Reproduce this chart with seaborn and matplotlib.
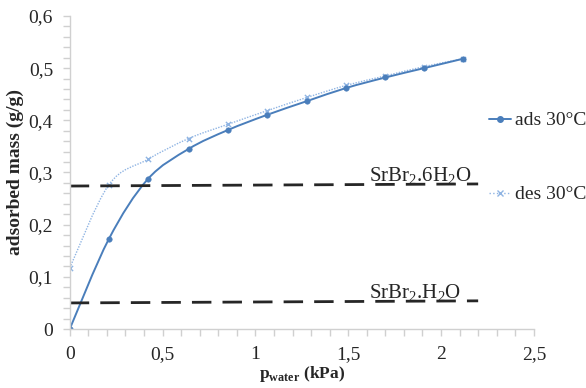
import numpy as np
import pandas as pd
import matplotlib
matplotlib.use("Agg")
import matplotlib.pyplot as plt
import seaborn as sns
from matplotlib.path import Path
from matplotlib.patches import PathPatch
from matplotlib.ticker import MultipleLocator, FuncFormatter

# data
p_water = [0, 0.21, 0.42, 0.64, 0.85, 1.06, 1.28, 1.49, 1.70, 1.91, 2.12]
ads_30 = [0, 0.172, 0.287, 0.345, 0.381, 0.410, 0.437, 0.462, 0.482, 0.500, 0.518]
des_30 = [0.117, 0.276, 0.325, 0.365, 0.392, 0.418, 0.444, 0.467, 0.485, 0.503, 0.518]

hexa_x = [0, 2.2]
hexa_y = [0.274, 0.278]
mono_x = [0, 2.2]
mono_y = [0.050, 0.054]

sns.set_style("white")
plt.rcParams["font.family"] = ["Liberation Serif", "DejaVu Serif"]
plt.rcParams["mathtext.fontset"] = "custom"
plt.rcParams["mathtext.rm"] = "Liberation Serif"
plt.rcParams["mathtext.bf"] = "Liberation Serif:bold"

ADS = "#4a7ebb"
DES = "#8fb4e3"


def smooth_path(ax, xs, ys, **kw):
    # Excel-like smoothed line (Bezier through the data points)
    pts = np.column_stack([xs, ys])
    n = len(pts)
    verts = [pts[0]]
    codes = [Path.MOVETO]
    for i in range(n - 1):
        p0 = pts[i - 1] if i > 0 else pts[i]
        p1, p2 = pts[i], pts[i + 1]
        p3 = pts[i + 2] if i + 2 < n else pts[i + 1]
        verts += [p1 + (p2 - p0) / 6, p2 - (p3 - p1) / 6, p2]
        codes += [Path.CURVE4] * 3
    ax.add_patch(PathPatch(Path(verts, codes), fill=False, **kw))


fig, ax = plt.subplots(figsize=(5.86, 3.88), dpi=100)
fig.subplots_adjust(left=0.119, right=0.911, top=0.959, bottom=0.152)

df = pd.DataFrame({"p": p_water, "ads": ads_30, "des": des_30})

smooth_path(ax, df["p"], df["des"], color=DES, lw=1.0, ls=(0, (1, 1)))
smooth_path(ax, df["p"], df["ads"], color=ADS, lw=1.4)
sns.scatterplot(data=df, x="p", y="des", marker="x", s=14, color=DES,
                linewidth=1, ax=ax)
sns.scatterplot(data=df, x="p", y="ads", marker="o", s=16, color=ADS,
                edgecolor=ADS, ax=ax)

ax.plot(hexa_x, hexa_y, color="#262626", lw=2, dashes=(7, 4))
ax.plot(mono_x, mono_y, color="#262626", lw=2, dashes=(7, 4))
ax.text(1.61, 0.283, r"SrBr$_2$.6H$_2$O", fontsize=15)
ax.text(1.61, 0.059, r"SrBr$_2$.H$_2$O", fontsize=15)

# legend entries (Excel style, far apart on the right)
h1, = ax.plot([], [], color=ADS, marker="o", ms=4, lw=1.4)
h2, = ax.plot([], [], color=DES, marker="x", ms=4, lw=1.0, ls=":")
fig.legend([h1, h2], ["ads 30°C", "des 30°C"], loc="center left",
           bbox_to_anchor=(0.835, 0.594), frameon=False, fontsize=14,
           labelspacing=2.9, handlelength=1.1, handletextpad=0.2,
           borderpad=0, borderaxespad=0)

ax.set_xlim(0, 2.5)
ax.set_ylim(0, 0.6)
ax.xaxis.set_major_locator(MultipleLocator(0.5))
ax.xaxis.set_minor_locator(MultipleLocator(0.1))
ax.yaxis.set_major_locator(MultipleLocator(0.1))
ax.yaxis.set_minor_locator(MultipleLocator(0.02))
fmt = FuncFormatter(lambda v, _: ("%g" % round(v, 2)).replace(".", ","))
ax.xaxis.set_major_formatter(fmt)
ax.yaxis.set_major_formatter(fmt)
ax.tick_params(which="both", direction="out", color="#d0d0d0", width=1,
               length=5, labelsize=14, left=True, bottom=True)
ax.tick_params(axis="x", pad=7)
ax.tick_params(axis="y", pad=7)

sns.despine(ax=ax)
for s in ["left", "bottom"]:
    ax.spines[s].set_color("#d0d0d0")
    ax.spines[s].set_linewidth(1)

ax.set_xlabel(r"p$_{\mathbf{water}}$ (kPa)", fontsize=12.5, fontweight="bold",
              labelpad=1)
ax.set_ylabel("adsorbed mass (g/g)", fontsize=14, fontweight="bold",
              labelpad=3)

fig.savefig("out.png", dpi=100)
